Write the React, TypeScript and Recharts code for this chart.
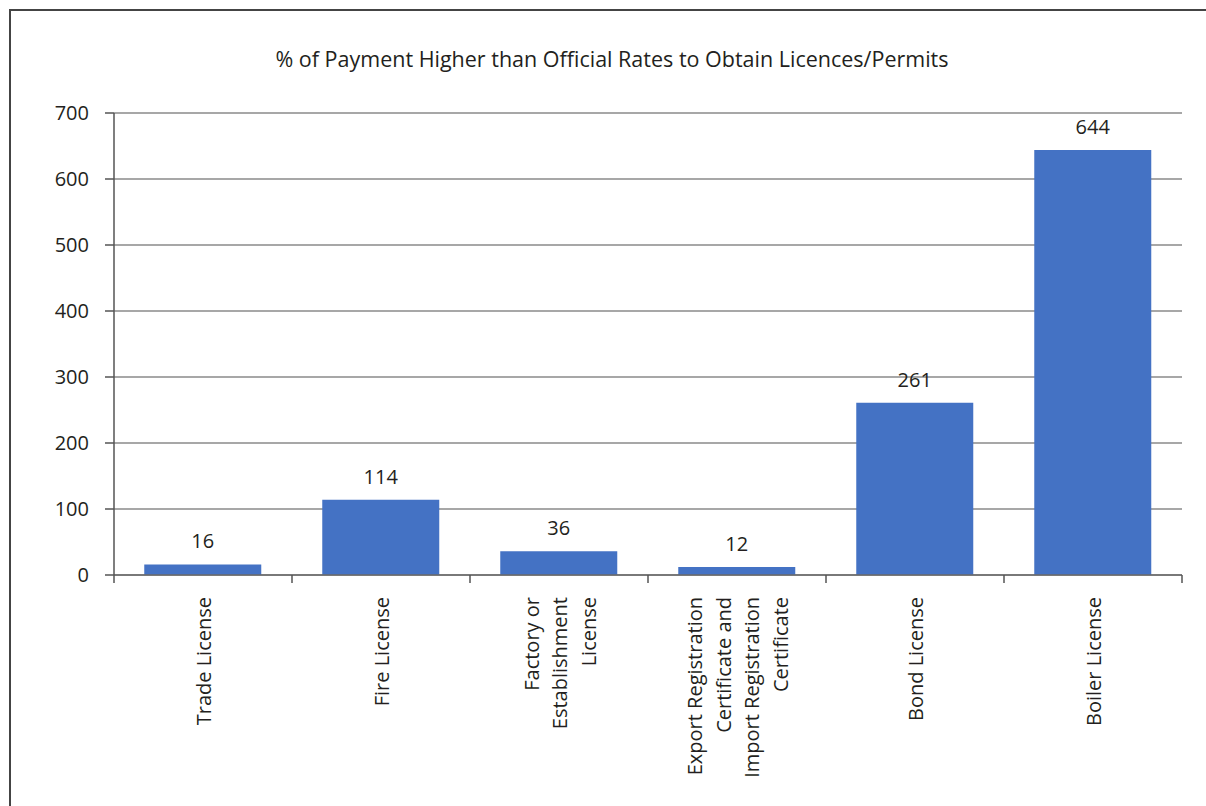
import React from 'react';
import { BarChart, Bar, XAxis, YAxis, CartesianGrid, LabelList } from 'recharts';

const categories = [
  'Trade License',
  'Fire License',
  'Factory or\nEstablishment\nLicense',
  'Export Registration\nCertificate and\nImport Registration\nCertificate',
  'Bond License',
  'Boiler License',
];
const values = [16, 114, 36, 12, 261, 644];
const yTicks = [0, 100, 200, 300, 400, 500, 600, 700];
const title = '% of Payment Higher than Official Rates to Obtain Licences/Permits';

const FONT = '"Open Sans", sans-serif';
const TEXT = '#231f20';

const data = categories.map((name, i) => ({ name, value: values[i] }));

const CategoryTick = (props: any) => {
  const { x, y, payload, index, visibleTicksCount } = props;
  const half = payload?.offset ?? 89;
  const lines = String(payload.value).split('\n');
  const top = y + 22;
  const spacing = 28.5;
  const isLast = index === (visibleTicksCount ?? categories.length) - 1;
  return (
    <g>
      <line x1={x - half} y1={y} x2={x - half} y2={y + 8} stroke="#555" strokeWidth={1.5} />
      {isLast && <line x1={x + half} y1={y} x2={x + half} y2={y + 8} stroke="#555" strokeWidth={1.5} />}
      <text
        x={x}
        y={top}
        transform={`rotate(-90 ${x} ${top})`}
        textAnchor="end"
        dominantBaseline="central"
        fontFamily={FONT}
        fontSize={20}
        fill={TEXT}
      >
        {lines.map((ln, i) => (
          <tspan key={i} x={x} y={top + (i - (lines.length - 1) / 2) * spacing}>{ln}</tspan>
        ))}
      </text>
    </g>
  );
};

export default function App() {
  return (
    <div style={{ position: 'absolute', left: 0, top: 0, width: 1206, height: 806, overflow: 'hidden', background: '#fff' }}>
      {/* frame: only top and left edges are inside the picture */}
      <div style={{ position: 'absolute', left: 9, top: 9, width: 1197, height: 2, background: '#444' }} />
      <div style={{ position: 'absolute', left: 9, top: 9, width: 2, height: 797, background: '#444' }} />
      <div style={{ position: 'absolute', left: 0, top: 44, width: 1224, textAlign: 'center', fontFamily: FONT, fontSize: 21.5, color: TEXT }}>
        {title}
      </div>
      <div style={{ position: 'absolute', left: 0, top: 0 }}>
        <BarChart width={1206} height={806} data={data} barCategoryGap="17%" margin={{ top: 113, right: 24, bottom: 31, left: 34 }}>
          <CartesianGrid vertical={false} stroke="#8a8a8a" strokeWidth={1.5} />
          <XAxis
            dataKey="name"
            interval={0}
            height={200}
            tickLine={false}
            tickSize={0}
            tickMargin={0}
            axisLine={{ stroke: '#6a6a6a', strokeWidth: 1.5 }}
            tick={<CategoryTick />}
          />
          <YAxis
            width={80}
            domain={[0, 700]}
            ticks={yTicks}
            interval={0}
            tickSize={9}
            tickMargin={16}
            tickLine={{ stroke: '#555', strokeWidth: 1.5 }}
            axisLine={{ stroke: '#555', strokeWidth: 1.5 }}
            tick={{ fill: TEXT, fontSize: 20, fontFamily: FONT }}
          />
          <Bar dataKey="value" fill="#4472c4" isAnimationActive={false}>
            <LabelList dataKey="value" position="top" offset={16} fill={TEXT} fontSize={20} fontFamily={FONT} />
          </Bar>
        </BarChart>
      </div>
    </div>
  );
}
